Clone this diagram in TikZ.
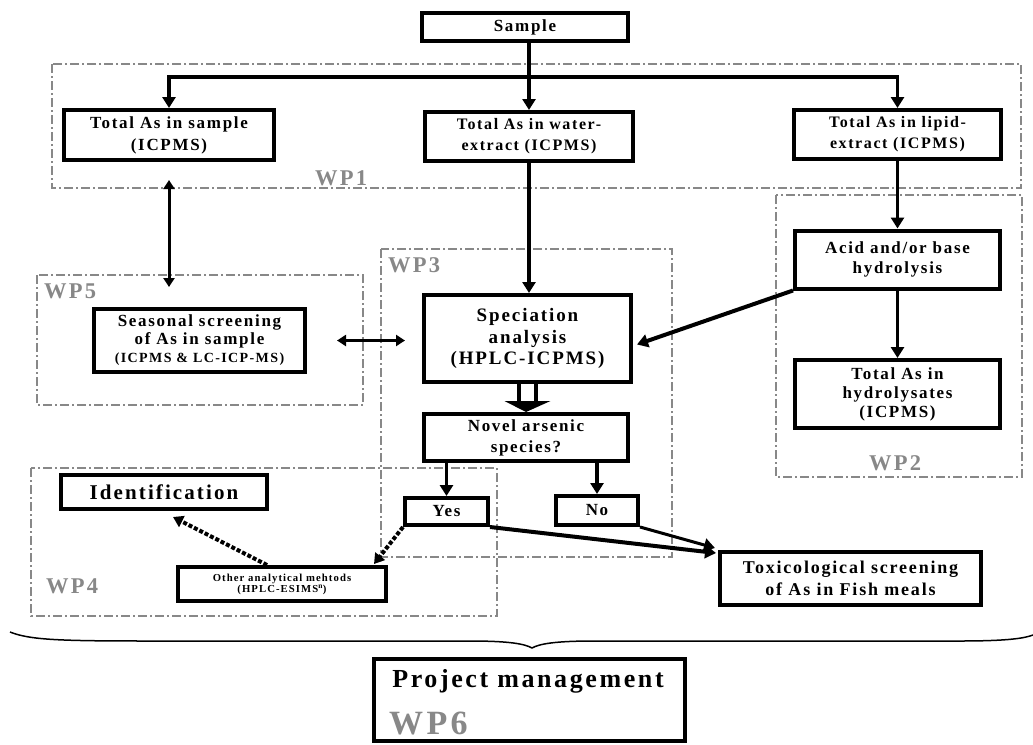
\documentclass[tikz,border=0pt]{standalone}
\usepackage{fontspec}
\setmainfont{Liberation Serif}[LetterSpace=10]
\usetikzlibrary{arrows.meta,calc}
\definecolor{wpgray}{HTML}{888888}
\newcommand\Fz[2]{\bfseries\fontsize{#1}{#2}\selectfont}
\begin{document}
\begin{tikzpicture}[x=1pt,y=-1pt,
 box/.style={draw, fill=white, line width=4pt, inner sep=0pt, align=center},
 wpbox/.style={draw=wpgray, dash pattern=on 9pt off 3pt on 2pt off 3pt},
 wplabel/.style={text=wpgray, font=\Fz{22.5}{22.5}, inner sep=0pt},
 conn/.style={line width=3.5pt, -{Triangle[length=11pt,width=13pt]}},
 thinconn/.style={line width=2.5pt, {Triangle[length=9pt,width=11pt]}-{Triangle[length=9pt,width=11pt]}},
 dotconn/.style={line width=4pt, dash pattern=on 4pt off 2pt, -{Triangle[length=10pt,width=12pt]}},
]
\useasboundingbox (0,0) rectangle (1033,744);

% work package frames
\draw[wpbox, line width=1.2pt] (52,64) rectangle (1021,188);
\draw[wpbox, line width=1.2pt] (776,195) rectangle (1022,477);
\draw[wpbox, line width=1.5pt] (381,249) rectangle (672,557);
\draw[wpbox, line width=2pt] (31,468) rectangle (497,616);
\draw[wpbox, line width=2pt] (37,275) rectangle (363,405);

\node[wplabel] (wp1) at (341,178) {WP1};
\node[wplabel] (wp2) at (895,463) {WP2};
\node[wplabel] (wp3) at (414,265) {WP3};
\node[wplabel] (wp4) at (72,586) {WP4};
\node[wplabel] (wp5) at (70,291) {WP5};

% boxes
\node[box, minimum width=206, minimum height=28, font=\Fz{17}{19}] (sample) at (525,27) {Sample};
\node[box, minimum width=210, minimum height=50, font=\Fz{17}{22}] (tsample) at (169,135) {Total As in sample\\(ICPMS)};
\node[box, minimum width=208, minimum height=49, font=\Fz{16}{21}] (water) at (529,136.5) {Total As in water-\\extract (ICPMS)};
\node[box, minimum width=207, minimum height=49, font=\Fz{16}{21}] (lipid) at (897.5,134.5) {Total As in lipid-\\extract (ICPMS)};
\node[box, minimum width=205, minimum height=58, font=\Fz{17}{20}] (acid) at (897.5,259.5) {Acid and/or base\\hydrolysis};
\node[box, minimum width=205, minimum height=68, font=\Fz{17}{19}] (hydro) at (897.5,394) {Total As in\\hydrolysates\\(ICPMS)};
\node[box, minimum width=207, minimum height=87, font=\Fz{19}{21.5}] (spec) at (527.5,338.5) {Speciation\\analysis\\(HPLC-ICPMS)};
\node[box, minimum width=204, minimum height=47, font=\Fz{17}{21}] (novel) at (526,437.5) {Novel arsenic\\species?};
\node[box, minimum width=211, minimum height=63, font=\Fz{17}{18}] (seasonal) at (199.5,340.5) {Seasonal screening\\of As in sample\\{\fontsize{14}{15}\selectfont (ICPMS \& LC-ICP-MS)}};
\node[box, minimum width=83, minimum height=27, font=\Fz{17}{18}] (yes) at (446.5,511.5) {Yes};
\node[box, minimum width=82, minimum height=29, font=\Fz{17}{18}] (no) at (597,510.5) {No};
\node[box, minimum width=206, minimum height=34, font=\Fz{21}{22}] (ident) at (164,492) {Identification};
\node[box, minimum width=208, minimum height=34, font=\Fz{10.7}{11}] (other) at (282,584) {Other analytical mehtods\\(HPLC-ESIMS\textsuperscript{n})};
\node[box, minimum width=261, minimum height=53, font=\Fz{18}{22}] (tox) at (850.5,578.5) {Toxicological screening\\of As in Fish meals};
\node[box, minimum width=311, minimum height=82] (pm) at (529.5,700) {};
\node[inner sep=0pt, font=\Fz{26}{26}] (pmtitle) at (528,681) {Project management};
\node[inner sep=0pt, anchor=west, text=wpgray, font=\Fz{34}{34}] (wp6) at (389,723) {WP6};

% connectors
\coordinate (bar) at (528,77);
\draw[line width=3.5pt, line cap=rect] (tsample.north |- bar) -- (lipid.north |- bar);
\draw[conn] (water.north |- sample.south) -- (water.north);
\draw[conn] (tsample.north |- bar) -- (tsample.north);
\draw[conn] (lipid.north |- bar) -- (lipid.north);
\draw[thinconn, line width=3pt, shorten <=18pt, shorten >=20pt] (tsample.south) -- (tsample.south |- seasonal.north);
\draw[thinconn, shorten <=30pt, shorten >=17pt] (seasonal.east) -- (seasonal.east -| spec.west);
\draw[conn] (water.south) -- (water.south |- spec.north);
\draw[conn] (lipid.south) -- (acid.north);
\draw[conn] (acid.south) -- (hydro.north);
\draw[conn, line width=4pt] (acid.south west) -- ($(spec.east)+(4,6)$);
% hollow arrow speciation -> novel
\draw[line width=3.5pt] ($(spec.south)+(-8.5,0)$) -- ++(0,19);
\draw[line width=3.5pt] ($(spec.south)+(8.5,0)$) -- ++(0,19);
\fill ($(spec.south)+(-23,17)$) -- ($(spec.south)+(23,17)$) -- (novel.north) -- cycle;
\draw[conn] (novel.south -| yes.north) -- (yes.north);
\draw[conn] (novel.south -| no.north) -- (no.north);
\draw[conn, line width=4pt] (yes.south east) -- ($(tox.north west)+(-2,3)$);
\draw[conn, line width=3pt] (no.south east) -- ($(tox.north west)+(-3,-2)$);
\draw[dotconn] (yes.south west) -- ($(other.north east)+(-14,-1)$);
\draw[dotconn] ($(other.north)+(-15,0)$) -- ($(ident.south)+(9,6)$);

% brace
\draw[line width=1.5pt] (10,632) .. controls (30,640) and (60,641) .. (150,641) -- (470,641)
  .. controls (510,641) and (525,644) .. (532,648)
  .. controls (539,644) and (554,641) .. (594,641) -- (960,641)
  .. controls (1010,641) and (1025,638) .. (1033,635);
\end{tikzpicture}
\end{document}
